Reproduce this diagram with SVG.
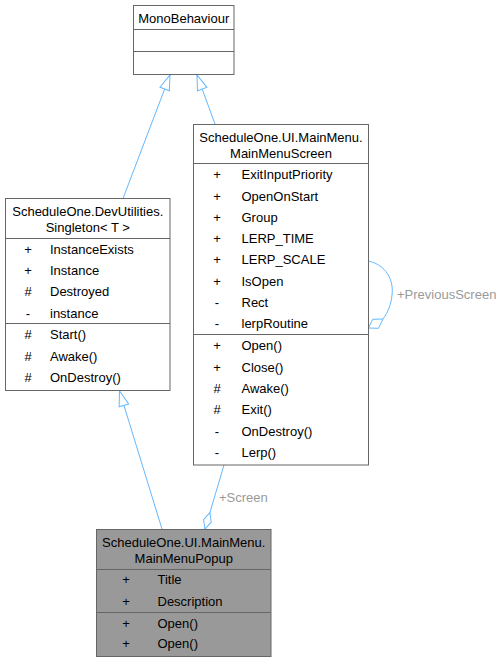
<svg xmlns="http://www.w3.org/2000/svg" width="502" height="663" viewBox="0 0 502 663">
<style>
text{font-family:"Liberation Sans",Arial,sans-serif;font-size:13px;fill:#000}
.t{text-anchor:middle}
.v{text-anchor:middle}
.box{fill:#fff;stroke:#666;stroke-width:1}
.boxg{fill:#999;stroke:#666;stroke-width:1}
.sep{stroke:#666;stroke-width:1}
.e{fill:none;stroke:#63b8ff;stroke-width:1}
.lbl{fill:#9a9a9a}
</style>
<defs>
<marker id="tri" viewBox="-1 -1 17 12" refX="15" refY="5" markerWidth="17" markerHeight="12" markerUnits="userSpaceOnUse" orient="auto" overflow="visible"><path d="M0,0 L15,5 L0,10 z" fill="#fff" stroke="#63b8ff"/></marker>
<marker id="dia" viewBox="-1 -1 19 10" refX="17" refY="4" markerWidth="19" markerHeight="10" markerUnits="userSpaceOnUse" orient="auto" overflow="visible"><path d="M0,4 L8.5,0 L17,4 L8.5,8 z" fill="#fff" stroke="#63b8ff"/></marker>
</defs>

<g id="connectors">
<path class="e" d="M123,198.5 L170,75" marker-end="url(#tri)"/>
<path class="e" d="M215,124 L197,75" marker-end="url(#tri)"/>
<path class="e" d="M162,529 L119.5,391" marker-end="url(#tri)"/>
<path class="e" d="M224,465 L205,529" marker-end="url(#dia)"/>
<path class="e" d="M368.5,261 C386,265 394,280 392,295 C391,305 388,312 383,319"/>
<polygon points="368.5,328 372.7,319.3 383,319 378.5,328.3" fill="#fff" stroke="#63b8ff"/>
<text class="lbl" x="219" y="501.5">+Screen</text>
<text class="lbl" x="397" y="299">+PreviousScreen</text>
</g>

<g id="MonoBehaviour">
<rect class="box" x="133.5" y="5.5" width="100.5" height="69"/>
<line class="sep" x1="133.5" y1="29.5" x2="234" y2="29.5"/>
<line class="sep" x1="133.5" y1="51.5" x2="234" y2="51.5"/>
<text class="t" x="183.75" y="22.5">MonoBehaviour</text>
</g>

<g id="Singleton">
<rect class="box" x="5.5" y="198.5" width="164.5" height="192"/>
<line class="sep" x1="5.5" y1="238.5" x2="170" y2="238.5"/>
<line class="sep" x1="5.5" y1="323.5" x2="170" y2="323.5"/>
<text class="t" x="87.75" y="216">ScheduleOne.DevUtilities.</text>
<text class="t" x="87.75" y="232">Singleton&lt; T &gt;</text>
<text class="v" x="28" y="254">+</text><text x="50" y="254">InstanceExists</text>
<text class="v" x="28" y="275">+</text><text x="50" y="275">Instance</text>
<text class="v" x="28" y="296">#</text><text x="50" y="296">Destroyed</text>
<text class="v" x="28" y="318">-</text><text x="50" y="318">instance</text>
<text class="v" x="28" y="339">#</text><text x="50" y="339">Start()</text>
<text class="v" x="28" y="360.5">#</text><text x="50" y="360.5">Awake()</text>
<text class="v" x="28" y="382">#</text><text x="50" y="382">OnDestroy()</text>
</g>

<g id="MainMenuScreen">
<rect class="box" x="193.5" y="124.5" width="175" height="340.5"/>
<line class="sep" x1="193.5" y1="163.5" x2="368.5" y2="163.5"/>
<line class="sep" x1="193.5" y1="334.5" x2="368.5" y2="334.5"/>
<text class="t" x="281" y="142">ScheduleOne.UI.MainMenu.</text>
<text class="t" x="281" y="158">MainMenuScreen</text>
<text class="v" x="217" y="179">+</text><text x="241.5" y="179">ExitInputPriority</text>
<text class="v" x="217" y="200.5">+</text><text x="241.5" y="200.5">OpenOnStart</text>
<text class="v" x="217" y="222">+</text><text x="241.5" y="222">Group</text>
<text class="v" x="217" y="243">+</text><text x="241.5" y="243">LERP_TIME</text>
<text class="v" x="217" y="264">+</text><text x="241.5" y="264">LERP_SCALE</text>
<text class="v" x="217" y="286">+</text><text x="241.5" y="286">IsOpen</text>
<text class="v" x="217" y="307">-</text><text x="241.5" y="307">Rect</text>
<text class="v" x="217" y="328">-</text><text x="241.5" y="328">lerpRoutine</text>
<text class="v" x="217" y="350">+</text><text x="241.5" y="350">Open()</text>
<text class="v" x="217" y="371.5">+</text><text x="241.5" y="371.5">Close()</text>
<text class="v" x="217" y="392.5">#</text><text x="241.5" y="392.5">Awake()</text>
<text class="v" x="217" y="414">#</text><text x="241.5" y="414">Exit()</text>
<text class="v" x="217" y="435.5">-</text><text x="241.5" y="435.5">OnDestroy()</text>
<text class="v" x="217" y="456.5">-</text><text x="241.5" y="456.5">Lerp()</text>
</g>

<g id="MainMenuPopup">
<rect class="boxg" x="96.5" y="529.5" width="174.5" height="127"/>
<line class="sep" x1="96.5" y1="569.5" x2="271" y2="569.5"/>
<line class="sep" x1="96.5" y1="612.5" x2="271" y2="612.5"/>
<text class="t" x="183.75" y="546.5">ScheduleOne.UI.MainMenu.</text>
<text class="t" x="183.75" y="563">MainMenuPopup</text>
<text class="v" x="126" y="584">+</text><text x="157.5" y="584">Title</text>
<text class="v" x="126" y="606">+</text><text x="157.5" y="606">Description</text>
<text class="v" x="126" y="627.5">+</text><text x="157.5" y="627.5">Open()</text>
<text class="v" x="126" y="648">+</text><text x="157.5" y="648">Open()</text>
</g>
</svg>
